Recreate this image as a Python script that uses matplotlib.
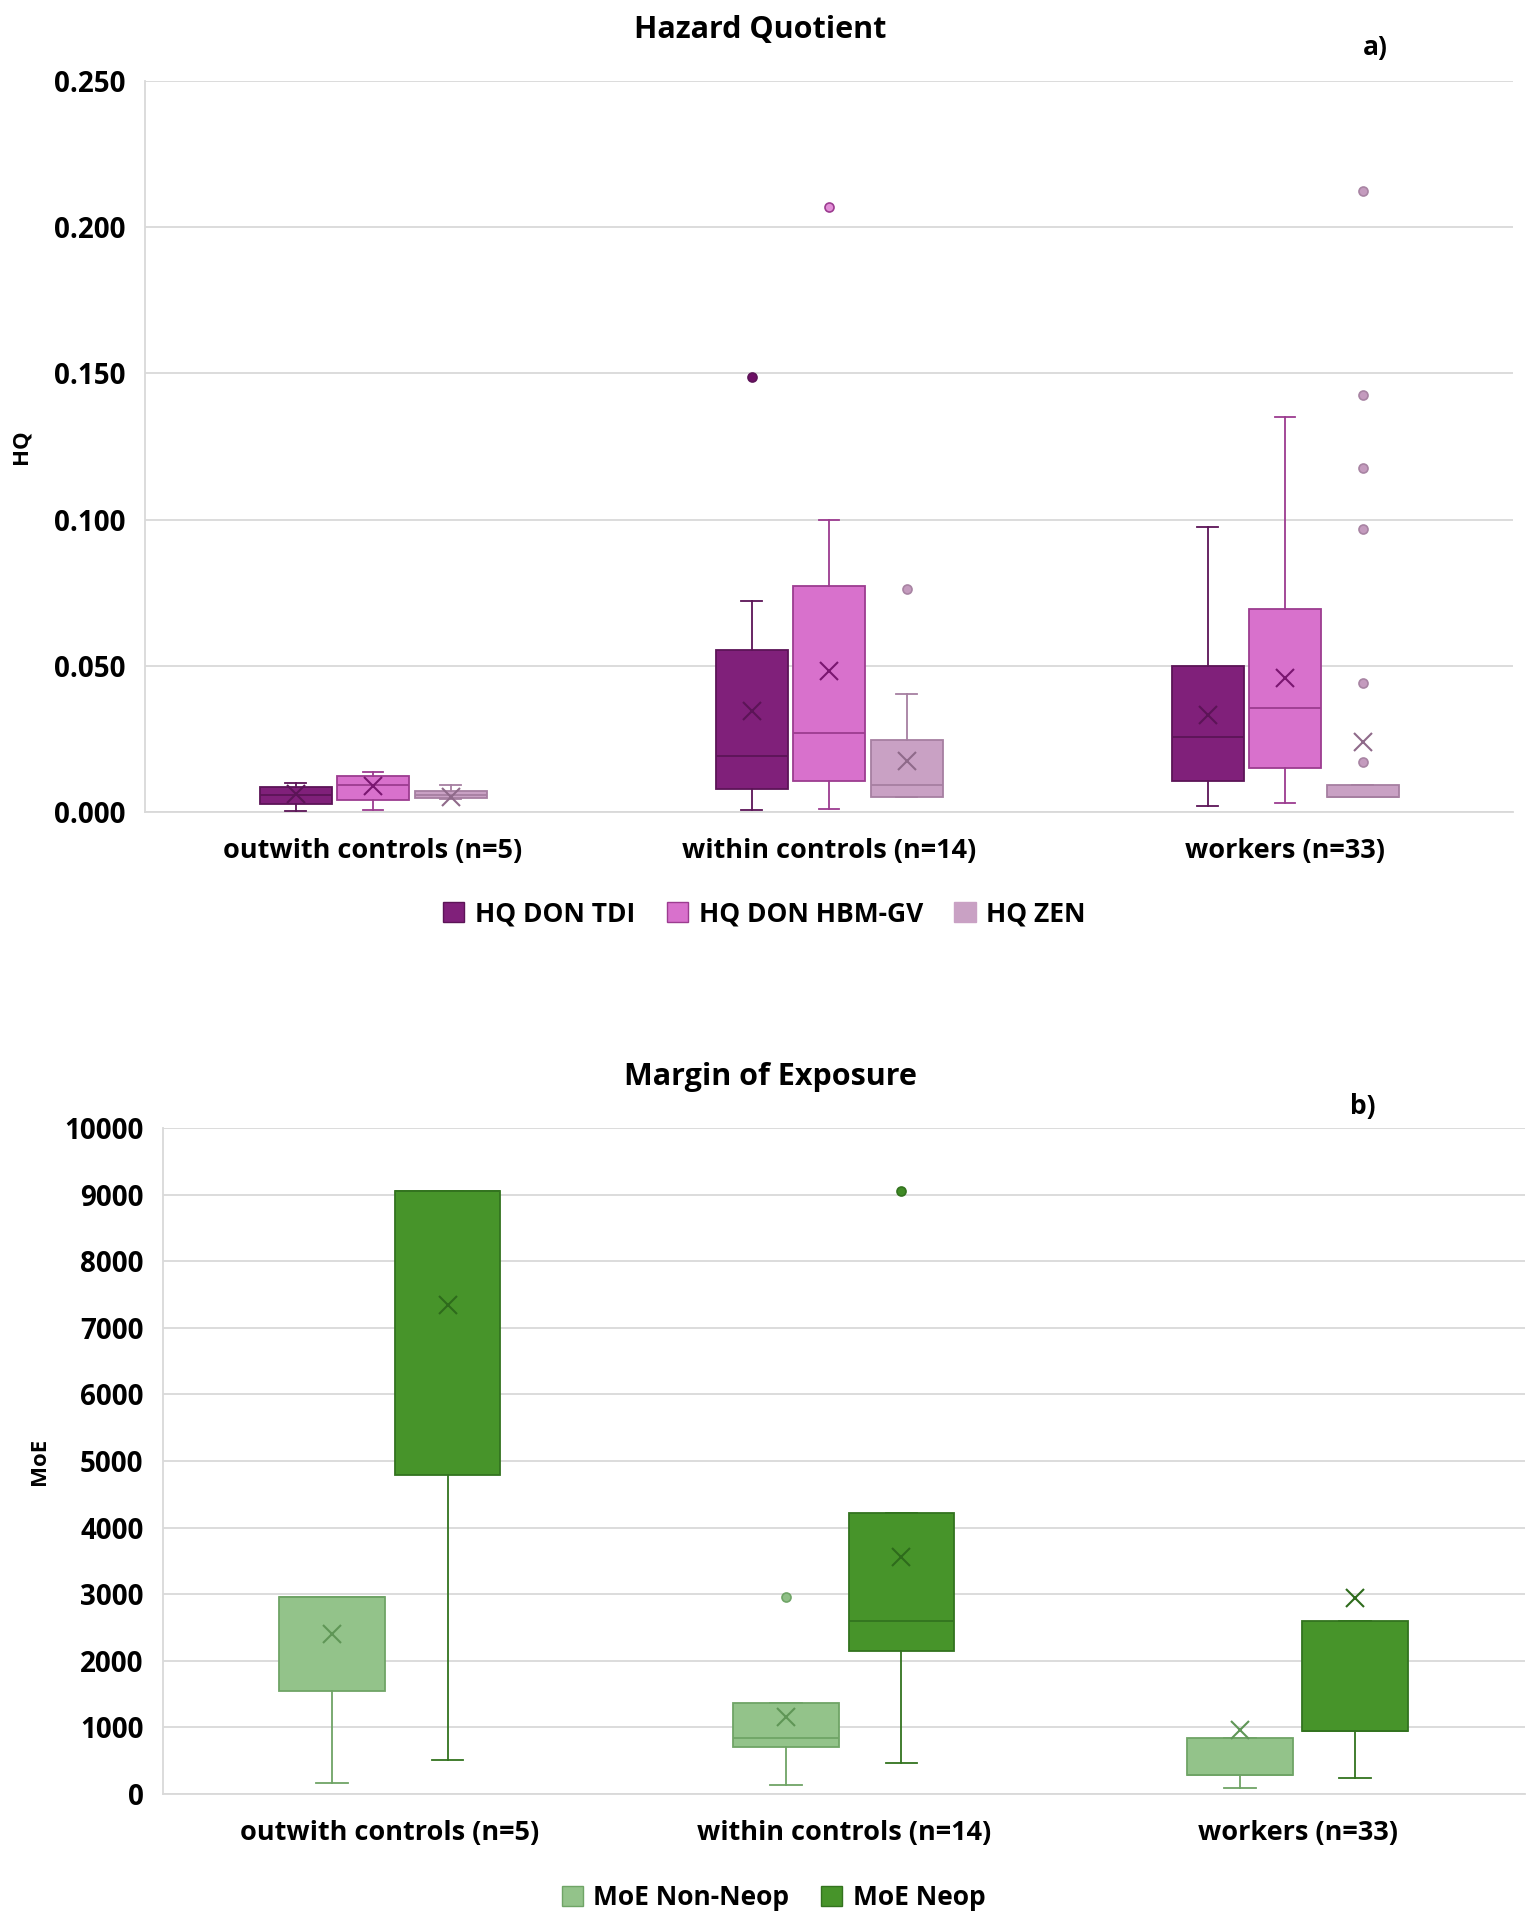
import numpy as np
import matplotlib.pyplot as plt
from matplotlib.patches import Patch

# ------------------------------------------------------------
# data (box statistics per group)
# ------------------------------------------------------------
categories = ["outwith controls (n=5)", "within controls (n=14)", "workers (n=33)"]

# Hazard quotient
tdi_whislo = [0.0003, 0.0008, 0.0020]
tdi_q1 = [0.0028, 0.0078, 0.0106]
tdi_med = [0.0058, 0.0192, 0.0255]
tdi_q3 = [0.0085, 0.0555, 0.0498]
tdi_whishi = [0.0098, 0.0720, 0.0973]
tdi_mean = [0.0060, 0.0345, 0.0332]
tdi_fliers = [[], [0.1486], []]

hbm_whislo = [0.0007, 0.0012, 0.0031]
hbm_q1 = [0.0041, 0.0106, 0.0149]
hbm_med = [0.0092, 0.0269, 0.0357]
hbm_q3 = [0.0122, 0.0773, 0.0695]
hbm_whishi = [0.0138, 0.1000, 0.1352]
hbm_mean = [0.0089, 0.0483, 0.0459]
hbm_fliers = [[], [0.2068], []]

zen_whislo = [0.0045, 0.0051, 0.0051]
zen_q1 = [0.0047, 0.0051, 0.0051]
zen_med = [0.0059, 0.0094, 0.0051]
zen_q3 = [0.0072, 0.0247, 0.0094]
zen_whishi = [0.0093, 0.0404, 0.0094]
zen_mean = [0.0053, 0.0173, 0.0239]
zen_fliers = [[], [0.0761], [0.2125, 0.1425, 0.1177, 0.0969, 0.0440, 0.0171]]

# Margin of exposure
nonneop_whislo = [167, 142, 83]
nonneop_q1 = [1553, 710, 292]
nonneop_med = [2963, 843, 292]
nonneop_q3 = [2963, 1369, 843]
nonneop_whishi = [2963, 1369, 843]
nonneop_mean = [2404, 1160, 960]
nonneop_fliers = [[], [2963], []]

neop_whislo = [509, 459, 242]
neop_q1 = [4791, 2145, 943]
neop_med = [9057, 2596, 943]
neop_q3 = [9057, 4215, 2596]
neop_whishi = [9057, 4215, 2596]
neop_mean = [7337, 3556, 2947]
neop_fliers = [[], [9057], []]

FONT = "Open Sans"


def make_stats(whislo, q1, med, q3, whishi, mean, fliers):
    stats = []
    for i in range(len(q1)):
        stats.append({
            "whislo": whislo[i],
            "q1": q1[i],
            "med": med[i],
            "q3": q3[i],
            "whishi": whishi[i],
            "mean": mean[i],
            "fliers": fliers[i],
        })
    return stats


def draw_series(ax, stats, pos, width, capw, fill, edge, mean_col, flier_fill, flier_edge):
    ax.bxp(
        stats,
        positions=pos,
        widths=width,
        capwidths=capw,
        patch_artist=True,
        showmeans=True,
        boxprops=dict(facecolor=fill, edgecolor=edge, linewidth=1.3),
        medianprops=dict(color=edge, linewidth=1.3),
        whiskerprops=dict(color=edge, linewidth=1.3),
        capprops=dict(color=edge, linewidth=1.3),
        meanprops=dict(marker="x", markeredgecolor=mean_col, markersize=13,
                       markeredgewidth=1.5, linestyle="none"),
        flierprops=dict(marker="o", markerfacecolor=flier_fill,
                        markeredgecolor=flier_edge, markersize=6.5,
                        markeredgewidth=1.2, linestyle="none"),
        zorder=3,
    )


def style_axes(ax, ticks, fmt):
    ax.set_yticks(ticks)
    ax.set_yticklabels([fmt(t) for t in ticks], fontsize=20, fontweight="bold",
                       family=FONT)
    ax.grid(axis="y", color="#d9d9d9", linewidth=1.3, zorder=0)
    ax.set_axisbelow(True)
    for side in ["top", "right"]:
        ax.spines[side].set_visible(False)
    ax.spines["left"].set_color("#d9d9d9")
    ax.spines["bottom"].set_color("#d9d9d9")
    ax.spines["left"].set_linewidth(1.3)
    ax.spines["bottom"].set_linewidth(1.3)
    ax.tick_params(axis="y", length=0, pad=14)
    ax.tick_params(axis="x", length=0, pad=19)
    ax.set_xticks(np.arange(len(categories)))
    ax.set_xticklabels(categories, fontsize=19.5, fontweight="bold", family=FONT)
    ax.set_xlim(-0.5, len(categories) - 0.5)


fig = plt.figure(figsize=(15.35, 19.22), dpi=100)

# ------------------------------------------------------------
# a) Hazard quotient
# ------------------------------------------------------------
ax1 = fig.add_axes([0.0945, 0.5775, 0.8912, 0.3804])
x = np.arange(len(categories))
w = 0.158
draw_series(ax1, make_stats(tdi_whislo, tdi_q1, tdi_med, tdi_q3, tdi_whishi, tdi_mean, tdi_fliers),
            x - 0.17, w, 0.045, "#80207a", "#5c1457", "#5c1457", "#6e0f66", "#5c1457")
draw_series(ax1, make_stats(hbm_whislo, hbm_q1, hbm_med, hbm_q3, hbm_whishi, hbm_mean, hbm_fliers),
            x, w, 0.045, "#d871cc", "#9c3c90", "#7a1670", "#e38fd8", "#9c3c90")
draw_series(ax1, make_stats(zen_whislo, zen_q1, zen_med, zen_q3, zen_whishi, zen_mean, zen_fliers),
            x + 0.17, w, 0.045, "#c9a1c4", "#a67fa1", "#8f6a8a", "#c49bbe", "#a884a3")
ax1.set_ylim(0, 0.25)
style_axes(ax1, np.arange(0, 0.2501, 0.05), lambda t: f"{t:.3f}")
ax1.set_ylabel("HQ", fontsize=16, fontweight="bold", family=FONT, labelpad=16)

fig.text(0.495, 0.9845, "Hazard Quotient", ha="center", va="center",
         fontsize=22, fontweight="bold", family=FONT)
fig.text(0.896, 0.9755, "a)", ha="center", va="center",
         fontsize=19, fontweight="bold", family=FONT)

handles1 = [
    Patch(facecolor="#80207a", edgecolor="#5c1457", label="HQ DON TDI"),
    Patch(facecolor="#d871cc", edgecolor="#9c3c90", label="HQ DON HBM-GV"),
    Patch(facecolor="#c9a1c4", edgecolor="#c9a1c4", label="HQ ZEN"),
]
fig.legend(handles=handles1, loc="center", bbox_to_anchor=(0.498, 0.5245), ncol=3,
           frameon=False, prop=dict(family=FONT, weight="bold", size=19),
           handlelength=0.8, handleheight=0.8, handletextpad=0.4, columnspacing=1.2)

# ------------------------------------------------------------
# b) Margin of exposure
# ------------------------------------------------------------
ax2 = fig.add_axes([0.1062, 0.0666, 0.8870, 0.3465])
w2 = 0.233
draw_series(ax2, make_stats(nonneop_whislo, nonneop_q1, nonneop_med, nonneop_q3, nonneop_whishi,
                            nonneop_mean, nonneop_fliers),
            x - 0.127, w2, 0.07, "#93c38a", "#6fa466", "#5f9656", "#8fbf86", "#6fa466")
draw_series(ax2, make_stats(neop_whislo, neop_q1, neop_med, neop_q3, neop_whishi,
                            neop_mean, neop_fliers),
            x + 0.127, w2, 0.07, "#47942a", "#33731f", "#2e6b1c", "#3f8a25", "#33731f")
ax2.set_ylim(0, 10000)
style_axes(ax2, np.arange(0, 10001, 1000), lambda t: f"{int(t)}")
ax2.set_ylabel("MoE", fontsize=16, fontweight="bold", family=FONT, labelpad=10)

fig.text(0.502, 0.4395, "Margin of Exposure", ha="center", va="center",
         fontsize=22, fontweight="bold", family=FONT)
fig.text(0.888, 0.4245, "b)", ha="center", va="center",
         fontsize=19, fontweight="bold", family=FONT)

handles2 = [
    Patch(facecolor="#93c38a", edgecolor="#6fa466", label="MoE Non-Neop"),
    Patch(facecolor="#47942a", edgecolor="#33731f", label="MoE Neop"),
]
fig.legend(handles=handles2, loc="center", bbox_to_anchor=(0.504, 0.0125), ncol=2,
           frameon=False, prop=dict(family=FONT, weight="bold", size=19),
           handlelength=0.8, handleheight=0.8, handletextpad=0.4, columnspacing=1.2)

fig.savefig("out.png", dpi=100, facecolor="white")
